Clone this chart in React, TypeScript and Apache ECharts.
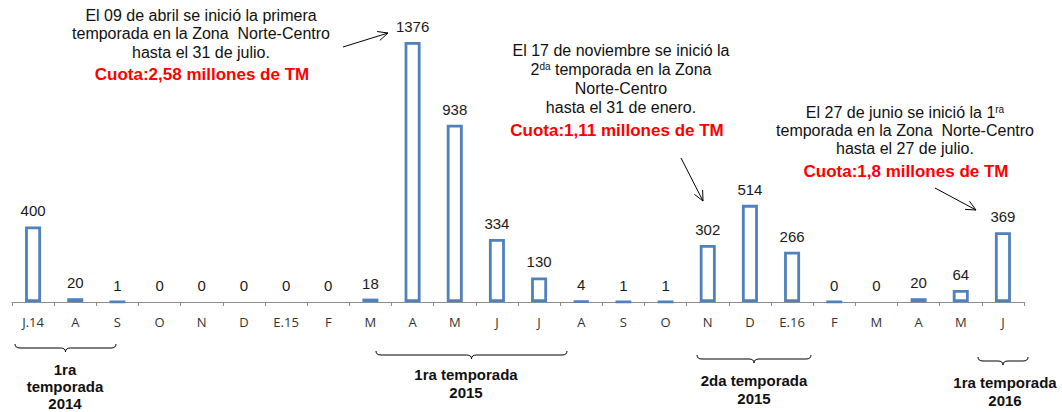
import React, { useEffect, useRef } from "react";
import * as echarts from "echarts";

const categories = ["J.14", "A", "S", "O", "N", "D", "E.15", "F", "M", "A", "M", "J", "J", "A", "S", "O", "N", "D", "E.16", "F", "M", "A", "M", "J"];
const values = [400, 20, 1, 0, 0, 0, 0, 0, 18, 1376, 938, 334, 130, 4, 1, 1, 302, 514, 266, 0.4, 0, 20, 64, 369];

const note1Lines = ["El 09 de abril se inició la primera", "temporada en la Zona  Norte-Centro", "hasta el 31 de julio."];
const note1Quota = "Cuota:2,58 millones de TM";
const note2Lines = ["El 17 de noviembre se inició la", "2{sup|da} temporada en la Zona", "Norte-Centro", "hasta el 31 de enero."];
const note2Quota = "Cuota:1,11 millones de TM";
const note3Lines = ["El 27 de junio se inició la 1{sup|ra}", "temporada en la Zona  Norte-Centro", "hasta el 27 de julio."];
const note3Quota = "Cuota:1,8 millones de TM";

const season1 = ["1ra", "temporada", "2014"];
const season2 = ["1ra temporada", "2015"];
const season3 = ["2da temporada", "2015"];
const season4 = ["1ra temporada", "2016"];

const TXT = "#111";
const RED = "#ff0000";
const FONT = "Arial, 'Liberation Sans', sans-serif";

function textLines(lines: string[], cx: number, y0: number, step: number, bold = false, size = 16) {
  return lines.map((t, i) => ({
    type: "text",
    x: cx,
    y: y0 + i * step,
    style: {
      text: t,
      fontFamily: FONT,
      fontSize: size,
      fontWeight: bold ? "bold" : "normal",
      fill: TXT,
      align: "center",
      verticalAlign: "middle",
      rich: {
        sup: { fontSize: 10, verticalAlign: "top", fontFamily: FONT, fill: TXT },
      },
    },
  }));
}

function quota(text: string, cx: number, y: number) {
  return {
    type: "text",
    x: cx,
    y,
    style: {
      text,
      fontFamily: FONT,
      fontSize: 17,
      fontWeight: "bold",
      fill: RED,
      align: "center",
      verticalAlign: "middle",
    },
  };
}

function arrow(x1: number, y1: number, x2: number, y2: number) {
  const ang = Math.atan2(y2 - y1, x2 - x1);
  const L = 11;
  const a = (25 * Math.PI) / 180;
  const st = { stroke: "#000", lineWidth: 1 };
  return [
    { type: "line", shape: { x1, y1, x2, y2 }, style: st },
    { type: "line", shape: { x1: x2, y1: y2, x2: x2 - L * Math.cos(ang - a), y2: y2 - L * Math.sin(ang - a) }, style: st },
    { type: "line", shape: { x1: x2, y1: y2, x2: x2 - L * Math.cos(ang + a), y2: y2 - L * Math.sin(ang + a) }, style: st },
  ];
}

function brace(x0: number, x1: number, y: number) {
  const xm = (x0 + x1) / 2;
  const r = 5;
  const h = 4;
  const st = { stroke: "#000", lineWidth: 1, fill: "none" };
  return [
    { type: "bezierCurve", shape: { x1: x0, y1: y - h, cpx1: x0, cpy1: y, x2: x0 + r, y2: y }, style: st },
    { type: "line", shape: { x1: x0 + r, y1: y, x2: xm - r, y2: y }, style: st },
    { type: "bezierCurve", shape: { x1: xm - r, y1: y, cpx1: xm, cpy1: y, x2: xm, y2: y + h }, style: st },
    { type: "bezierCurve", shape: { x1: xm, y1: y + h, cpx1: xm, cpy1: y, x2: xm + r, y2: y }, style: st },
    { type: "line", shape: { x1: xm + r, y1: y, x2: x1 - r, y2: y }, style: st },
    { type: "bezierCurve", shape: { x1: x1 - r, y1: y, cpx1: x1, cpy1: y, x2: x1, y2: y - h }, style: st },
  ];
}

export default function App() {
  const ref = useRef<HTMLDivElement>(null);
  useEffect(() => {
    document.body.style.margin = "0";
    if (!ref.current) return;
    const chart = echarts.init(ref.current, undefined, { renderer: "svg" });
    const data = values.map((v) => ({
      value: v,
      itemStyle: v === 0 ? { borderColor: "rgba(0,0,0,0)" } : undefined,
    }));
    chart.setOption({
      animation: false,
      backgroundColor: "#fff",
      grid: { left: 12, right: 38, top: 10, bottom: 110, containLabel: false },
      xAxis: {
        type: "category",
        data: categories,
        boundaryGap: true,
        axisLine: { lineStyle: { color: "#8c8c8c", width: 1 } },
        axisTick: { show: true, length: 4, lineStyle: { color: "#8c8c8c" }, alignWithLabel: false },
        axisLabel: { color: "#333333", fontSize: 13, fontFamily: "'Open Sans', sans-serif", margin: 13, interval: 0 },
      },
      yAxis: { type: "value", min: 0, max: 1545, show: false, splitLine: { show: false } },
      series: [
        {
          type: "bar",
          data,
          barWidth: 16,
          itemStyle: { color: "#ffffff", borderColor: "#4f81bd", borderWidth: 2.8 },
          label: {
            show: true,
            position: "top",
            distance: 8,
            color: "#1a1a1a",
            fontSize: 15,
            fontFamily: FONT,
            formatter: (p: any) => String(Math.round(p.value)),
          },
        },
      ],
      graphic: [
        ...textLines(note1Lines, 201, 15, 18.5),
        quota(note1Quota, 202, 74),
        ...arrow(343, 47, 388, 33),
        ...textLines(note2Lines, 621, 50, 19),
        quota(note2Quota, 617, 130),
        ...arrow(681, 158, 703, 201),
        ...textLines(note3Lines, 905, 112, 18),
        quota(note3Quota, 906, 171),
        ...arrow(935, 188, 976, 210),
        ...brace(15, 116, 348),
        ...textLines(season1, 65, 369.5, 17, true, 15),
        ...brace(376, 567, 355),
        ...textLines(season2, 466, 374, 18, true, 15),
        ...brace(697, 811, 359),
        ...textLines(season3, 754, 380, 18, true, 15),
        ...brace(978, 1028, 361),
        ...textLines(season4, 1005, 382, 18, true, 15),
      ],
    });
    return () => chart.dispose();
  }, []);
  return <div ref={ref} style={{ width: 1062, height: 412 }} />;
}
